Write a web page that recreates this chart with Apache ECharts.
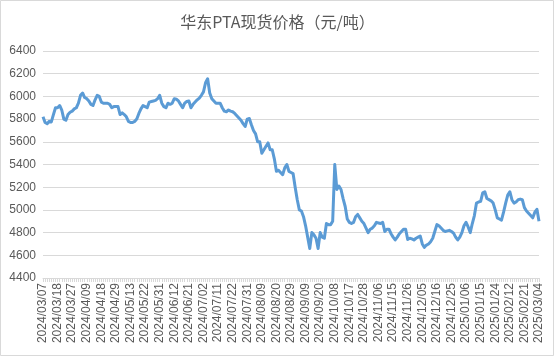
<!DOCTYPE html>
<html>
<head>
<meta charset="utf-8">
<script src="https://cdn.jsdelivr.net/npm/echarts@6/dist/echarts.min.js"></script>
<style>html,body{margin:0;padding:0;background:#fff}#c{width:555px;height:357px}</style>
</head>
<body>
<div id="c"></div>
<script>
const titleText = '华东PTA现货价格（元/吨）';
const dates = [
'2024/03/07','2024/03/08','2024/03/11','2024/03/12','2024/03/13','2024/03/14','2024/03/15',
'2024/03/18','2024/03/19','2024/03/20','2024/03/21','2024/03/22','2024/03/25','2024/03/26',
'2024/03/27','2024/03/28','2024/03/29','2024/04/01','2024/04/02','2024/04/03','2024/04/08',
'2024/04/09','2024/04/10','2024/04/11','2024/04/12','2024/04/15','2024/04/16','2024/04/17',
'2024/04/18','2024/04/19','2024/04/22','2024/04/23','2024/04/24','2024/04/25','2024/04/26',
'2024/04/29','2024/04/30','2024/05/06','2024/05/07','2024/05/08','2024/05/09','2024/05/10',
'2024/05/13','2024/05/14','2024/05/15','2024/05/16','2024/05/17','2024/05/20','2024/05/21',
'2024/05/22','2024/05/23','2024/05/24','2024/05/27','2024/05/28','2024/05/29','2024/05/30',
'2024/05/31','2024/06/03','2024/06/04','2024/06/05','2024/06/06','2024/06/07','2024/06/11',
'2024/06/12','2024/06/13','2024/06/14','2024/06/17','2024/06/18','2024/06/19','2024/06/20',
'2024/06/21','2024/06/24','2024/06/25','2024/06/26','2024/06/27','2024/06/28','2024/07/01',
'2024/07/02','2024/07/03','2024/07/04','2024/07/05','2024/07/08','2024/07/09','2024/07/10',
'2024/07/11','2024/07/12','2024/07/15','2024/07/16','2024/07/17','2024/07/18','2024/07/19',
'2024/07/22','2024/07/23','2024/07/24','2024/07/25','2024/07/26','2024/07/29','2024/07/30',
'2024/07/31','2024/08/01','2024/08/02','2024/08/05','2024/08/06','2024/08/07','2024/08/08',
'2024/08/09','2024/08/12','2024/08/13','2024/08/14','2024/08/15','2024/08/16','2024/08/19',
'2024/08/20','2024/08/21','2024/08/22','2024/08/23','2024/08/26','2024/08/27','2024/08/28',
'2024/08/29','2024/08/30','2024/09/02','2024/09/03','2024/09/04','2024/09/05','2024/09/06',
'2024/09/09','2024/09/10','2024/09/11','2024/09/12','2024/09/13','2024/09/18','2024/09/19',
'2024/09/20','2024/09/23','2024/09/24','2024/09/25','2024/09/26','2024/09/27','2024/09/30',
'2024/10/08','2024/10/09','2024/10/10','2024/10/11','2024/10/14','2024/10/15','2024/10/16',
'2024/10/17','2024/10/18','2024/10/21','2024/10/22','2024/10/23','2024/10/24','2024/10/25',
'2024/10/28','2024/10/29','2024/10/30','2024/10/31','2024/11/01','2024/11/04','2024/11/05',
'2024/11/06','2024/11/07','2024/11/08','2024/11/11','2024/11/12','2024/11/13','2024/11/14',
'2024/11/15','2024/11/18','2024/11/19','2024/11/20','2024/11/21','2024/11/22','2024/11/25',
'2024/11/26','2024/11/27','2024/11/28','2024/11/29','2024/12/02','2024/12/03','2024/12/04',
'2024/12/05','2024/12/06','2024/12/09','2024/12/10','2024/12/11','2024/12/12','2024/12/13',
'2024/12/16','2024/12/17','2024/12/18','2024/12/19','2024/12/20','2024/12/23','2024/12/24',
'2024/12/25','2024/12/26','2024/12/27','2024/12/30','2024/12/31','2025/01/02','2025/01/03',
'2025/01/06','2025/01/07','2025/01/08','2025/01/09','2025/01/10','2025/01/13','2025/01/14',
'2025/01/15','2025/01/16','2025/01/17','2025/01/20','2025/01/21','2025/01/22','2025/01/23',
'2025/01/24','2025/01/27','2025/02/05','2025/02/06','2025/02/07','2025/02/10','2025/02/11',
'2025/02/12','2025/02/13','2025/02/14','2025/02/17','2025/02/18','2025/02/19','2025/02/20',
'2025/02/21','2025/02/24','2025/02/25','2025/02/26','2025/02/27','2025/02/28','2025/03/03',
'2025/03/04'
];
const prices = [
5820,5770,5760,5780,5775,5840,5900,5900,5920,5880,
5800,5790,5840,5860,5870,5890,5900,5940,6010,6030,
5990,5980,5960,5930,5920,5970,6010,6000,5950,5940,
5940,5940,5930,5900,5910,5910,5910,5840,5855,5840,
5820,5780,5770,5770,5780,5800,5850,5890,5920,5910,
5900,5950,5955,5960,5965,5980,6010,5940,5910,5900,
5940,5930,5940,5980,5975,5960,5930,5900,5940,5955,
5960,5900,5930,5950,5970,5985,6010,6040,6120,6155,
6030,5980,5960,5940,5940,5940,5900,5870,5865,5880,
5870,5865,5850,5830,5810,5790,5760,5735,5800,5805,
5750,5700,5670,5600,5600,5500,5530,5560,5590,5530,
5530,5450,5340,5350,5330,5310,5370,5400,5340,5330,
5320,5200,5090,5000,4990,4940,4860,4760,4660,4800,
4780,4750,4660,4800,4760,4750,4880,4870,4870,4900,
5400,5180,5210,5180,5100,5030,4920,4890,4880,4890,
4940,4960,4930,4900,4880,4840,4800,4830,4840,4860,
4890,4885,4880,4890,4810,4830,4830,4790,4760,4735,
4760,4790,4810,4830,4830,4740,4750,4745,4735,4750,
4760,4770,4700,4670,4690,4700,4720,4750,4810,4870,
4860,4840,4820,4810,4815,4820,4810,4795,4760,4735,
4760,4800,4860,4890,4850,4800,4880,4950,5060,5070,
5075,5150,5160,5100,5090,5080,5060,5000,4930,4920,
4910,4980,5060,5130,5160,5090,5060,5070,5090,5095,
5090,5020,4990,4970,4950,4930,4980,5005,4900
];
const yMin = 4400, yMax = 6400, yStep = 200;

const chart = echarts.init(document.getElementById('c'), null, {renderer: 'canvas'});
chart.setOption({
  animation: false,
  backgroundColor: '#ffffff',
  title: {
    text: titleText,
    left: 'center',
    top: 9,
    textStyle: {fontFamily: 'Noto Sans CJK SC', fontSize: 16, fontWeight: 'normal', color: '#595959'}
  },
  graphic: [{
    type: 'rect', silent: true,
    shape: {x: 0.5, y: 0.5, width: 553, height: 355},
    style: {fill: 'none', stroke: '#D9D9D9', lineWidth: 1}
  }],
  grid: {left: 43, right: 16, top: 51, bottom: 79, containLabel: false},
  xAxis: {
    type: 'category',
    data: dates,
    boundaryGap: false,
    axisLine: {lineStyle: {color: '#D9D9D9', width: 1}},
    axisTick: {show: true, interval: 0, length: 4, lineStyle: {color: '#D9D9D9'}},
    axisLabel: {
      interval: 6, rotate: 90, margin: 5,
      fontFamily: 'Liberation Sans', fontSize: 12, color: '#595959'
    },
    splitLine: {show: false}
  },
  yAxis: {
    type: 'value',
    min: yMin, max: yMax, interval: yStep,
    axisLine: {show: false},
    axisTick: {show: false},
    axisLabel: {margin: 7, fontFamily: 'Liberation Sans', fontSize: 12, color: '#595959',
      formatter: function (v) { return String(v); }},
    splitLine: {lineStyle: {color: '#D9D9D9', width: 1}}
  },
  series: [{
    type: 'line',
    data: prices,
    showSymbol: false,
    symbol: 'none',
    lineStyle: {color: '#5B9BD5', width: 3, join: 'round'},
    itemStyle: {color: '#5B9BD5'}
  }]
});
</script>
</body>
</html>
